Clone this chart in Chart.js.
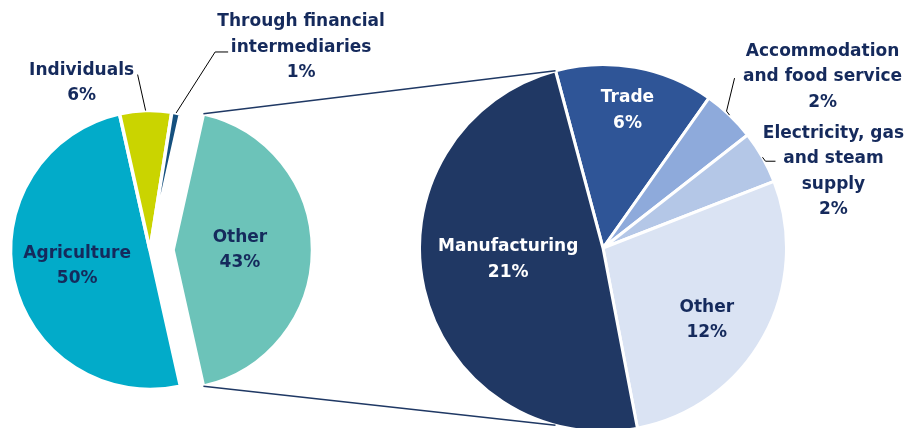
<!DOCTYPE html>
<html>
<head>
<meta charset="utf-8">
<title>Pie of pie</title>
<script src="https://cdn.jsdelivr.net/npm/chart.js@4.4.1/dist/chart.umd.min.js"></script>
<style>
  html, body { margin: 0; padding: 0; background: #fff; }
  .wrap { position: relative; width: 911px; height: 428px; overflow: hidden; }
  .wrap canvas { position: absolute; left: 0; top: 0; }
</style>
</head>
<body>
<div class="wrap">
  <canvas id="mainPie" width="911" height="428"></canvas>
  <canvas id="subPie" width="911" height="428"></canvas>
</div>
<script>
// ── Data ──
const MAIN_LABELS = ['Other', 'Agriculture', 'Individuals', 'Through financial intermediaries'];
const MAIN_VALUES = [43, 50, 6, 1];
const MAIN_LINES = [['Other'], ['Agriculture'], ['Individuals'], ['Through financial', 'intermediaries']];

const SUB_LABELS = ['Trade', 'Accommodation and food service', 'Electricity, gas and steam supply', 'Other', 'Manufacturing'];
const SUB_VALUES = [6, 2, 2, 12, 21];
const SUB_LINES = [['Trade'], ['Accommodation', 'and food service'], ['Electricity, gas', 'and steam', 'supply'], ['Other'], ['Manufacturing']];

// ── Styles ──
const MAIN_COLORS = ['#6cc3b9', '#02abc9', '#cad400', '#15507e'];
const SUB_COLORS = ['#2f5597', '#8eaadb', '#b4c7e7', '#dae3f3', '#203864'];
const TEXT_COLOR = '#152a5c';
const FONT = 'bold 17px "DejaVu Sans"';
const LINE_H = 25.5;

// label placement per slice: inside (frac of radius) or outside (leader + text offset)
const MAIN_LABEL_STYLE = [
  { frac: 0.48 },
  { frac: 0.535 },
  { leader: [[-8, -36]], text: [-56, -4] },
  { leader: [[39, -61], [52, -61]], text: [73, -30] }
];
const SUB_LABEL_STYLE = [
  { frac: 0.76, color: '#fff' },
  { leader: [[-3, -4], [5, -37]], text: [88, -27] },
  { leader: [[3, 4], [13, 4]], text: [58, -28] },
  { frac: 0.69, dx: -7, dy: 11 },
  { frac: 0.53, dy: -10, color: '#fff' }
];

const sum = arr => arr.reduce((a, b) => a + b, 0);

// ── Plugins ──
const explodePlugin = {
  id: 'explode',
  afterDatasetUpdate(chart, args, opts) {
    const arc = args.meta.data[opts.index];
    if (!arc || !opts.distance) return;
    const mid = (arc.startAngle + arc.endAngle) / 2;
    arc.x += Math.cos(mid) * opts.distance;
    arc.y += Math.sin(mid) * opts.distance;
  }
};

const labelPlugin = {
  id: 'sliceLabels',
  afterDatasetsDraw(chart, args, opts) {
    const ctx = chart.ctx;
    const meta = chart.getDatasetMeta(0);
    const values = chart.data.datasets[0].data;
    ctx.save();
    ctx.font = FONT;
    ctx.textAlign = 'center';
    ctx.textBaseline = 'middle';
    meta.data.forEach((arc, i) => {
      const st = opts.styles[i];
      const lines = opts.lines[i].concat(values[i] + '%');
      const mid = (arc.startAngle + arc.endAngle) / 2;
      let cx, cy;
      if (st.frac !== undefined) {
        cx = arc.x + Math.cos(mid) * arc.outerRadius * st.frac + (st.dx || 0);
        cy = arc.y + Math.sin(mid) * arc.outerRadius * st.frac + (st.dy || 0);
        cy -= (lines.length - 1) * LINE_H / 2;
      } else {
        const ex = arc.x + Math.cos(mid) * arc.outerRadius;
        const ey = arc.y + Math.sin(mid) * arc.outerRadius;
        let px = ex, py = ey;
        ctx.beginPath();
        ctx.moveTo(ex, ey);
        st.leader.forEach(([dx, dy]) => {
          px = ex + dx; py = ey + dy;
          ctx.lineTo(px, py);
        });
        ctx.strokeStyle = '#000';
        ctx.lineWidth = 1;
        ctx.stroke();
        cx = px + st.text[0];
        cy = py + st.text[1];
      }
      ctx.fillStyle = st.color || TEXT_COLOR;
      lines.forEach((ln, k) => ctx.fillText(ln, cx, cy + k * LINE_H));
    });
    ctx.restore();
  }
};

const baseOptions = {
  responsive: false,
  animation: false,
  events: [],
  plugins: { legend: { display: false }, tooltip: { enabled: false } }
};

// ── Main pie ──
const mainChart = new Chart(document.getElementById('mainPie'), {
  type: 'pie',
  data: {
    labels: MAIN_LABELS,
    datasets: [{
      data: MAIN_VALUES,
      backgroundColor: MAIN_COLORS,
      borderColor: '#fff',
      borderWidth: 3.5
    }]
  },
  options: {
    ...baseOptions,
    radius: 139.5,
    rotation: 90 - MAIN_VALUES[0] / sum(MAIN_VALUES) * 180,
    layout: { padding: { left: 13, right: 624, top: 113, bottom: 41 } },
    plugins: {
      ...baseOptions.plugins,
      explode: { index: 0, distance: 23 },
      sliceLabels: { lines: MAIN_LINES, styles: MAIN_LABEL_STYLE }
    }
  },
  plugins: [explodePlugin, labelPlugin]
});

// ── Connector lines between the two pies ──
const connectorPlugin = {
  id: 'connectors',
  afterDraw(chart) {
    const src = mainChart.getDatasetMeta(0).data[0];
    const dst = chart.getDatasetMeta(0).data[0];
    const ctx = chart.ctx;
    const a = dst.startAngle;
    const pts = [
      [src.x + Math.cos(src.startAngle) * src.outerRadius, src.y + Math.sin(src.startAngle) * src.outerRadius,
       dst.x + Math.cos(a) * dst.outerRadius, dst.y + Math.sin(a) * dst.outerRadius],
      [src.x + Math.cos(src.endAngle) * src.outerRadius, src.y + Math.sin(src.endAngle) * src.outerRadius,
       dst.x + Math.cos(-a) * dst.outerRadius, dst.y + Math.sin(-a) * dst.outerRadius]
    ];
    ctx.save();
    ctx.strokeStyle = '#1f3864';
    ctx.lineWidth = 1.5;
    pts.forEach(p => {
      ctx.beginPath();
      ctx.moveTo(p[0], p[1]);
      ctx.lineTo(p[2], p[3]);
      ctx.stroke();
    });
    ctx.restore();
  }
};

// ── Secondary pie ──
new Chart(document.getElementById('subPie'), {
  type: 'pie',
  data: {
    labels: SUB_LABELS,
    datasets: [{
      data: SUB_VALUES,
      backgroundColor: SUB_COLORS,
      borderColor: '#fff',
      borderWidth: 3
    }]
  },
  options: {
    ...baseOptions,
    radius: 183.5,
    rotation: -15,
    layout: { padding: { left: 420, right: 125, top: 68, bottom: 0 } },
    plugins: {
      ...baseOptions.plugins,
      sliceLabels: { lines: SUB_LINES, styles: SUB_LABEL_STYLE }
    }
  },
  plugins: [labelPlugin, connectorPlugin]
});
</script>
</body>
</html>
